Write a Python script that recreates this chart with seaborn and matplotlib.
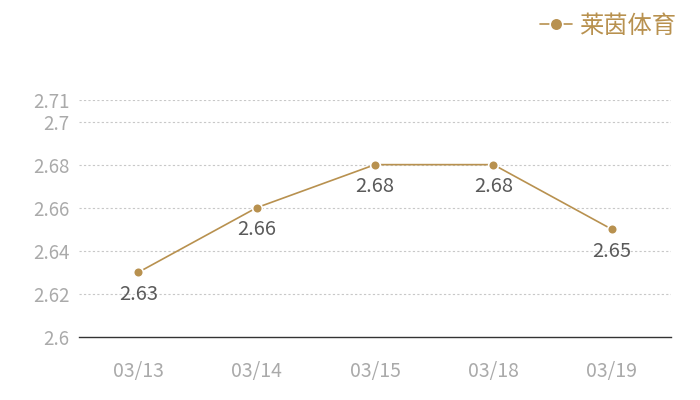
import matplotlib
matplotlib.use("Agg")
import matplotlib.pyplot as plt
import seaborn as sns
import pandas as pd

dates = ["03/13", "03/14", "03/15", "03/18", "03/19"]
prices = [2.63, 2.66, 2.68, 2.68, 2.65]
series_name = "莱茵体育"
y_ticks = [2.6, 2.62, 2.64, 2.66, 2.68, 2.7, 2.71]
y_labels = ["2.6", "2.62", "2.64", "2.66", "2.68", "2.7", "2.71"]

gold = "#b8914f"

sns.set_style("white")
plt.rcParams["font.family"] = ["Noto Sans CJK SC", "DejaVu Sans"]

df = pd.DataFrame({"date": dates, "price": prices})

fig = plt.figure(figsize=(7, 4), dpi=100)
ax = fig.add_axes([0.1129, 0.1575, 0.8457, 0.5925])

sns.lineplot(
    data=df, x="date", y="price", ax=ax, color=gold, linewidth=1.2,
    marker="o", markersize=7, markeredgecolor="white", markeredgewidth=1.2,
    label=series_name, sort=False,
)

for i, v in enumerate(prices):
    ax.annotate(f"{v:g}", (i, v), xytext=(0, -16), textcoords="offset points",
                ha="center", va="center", fontsize=14.5, color="#5a5a5a")

ax.set_xlim(-0.5, len(dates) - 0.5)
ax.set_ylim(2.6, 2.71)
ax.set_yticks(y_ticks)
ax.set_yticklabels(y_labels)
ax.set_xlabel("")
ax.set_ylabel("")
ax.tick_params(axis="y", length=0, pad=7, labelsize=13.5, labelcolor="#aaaaaa")
ax.tick_params(axis="x", length=0, pad=17, labelsize=14, labelcolor="#aaaaaa")

for y in y_ticks[1:]:
    ax.axhline(y, color="#c8c8c8", linewidth=0.8, linestyle=(0, (2, 2)), zorder=0)

for s in ["top", "right", "left"]:
    ax.spines[s].set_visible(False)
ax.spines["bottom"].set_color("#333333")
ax.spines["bottom"].set_linewidth(1)

ax.legend(loc="upper right", bbox_to_anchor=(0.987, 1.005), bbox_transform=fig.transFigure,
          frameon=False, fontsize=17.5, labelcolor=gold, handlelength=1.3,
          handletextpad=0.3, borderaxespad=0.2, markerscale=1.3)

fig.savefig("out.png", dpi=100)
